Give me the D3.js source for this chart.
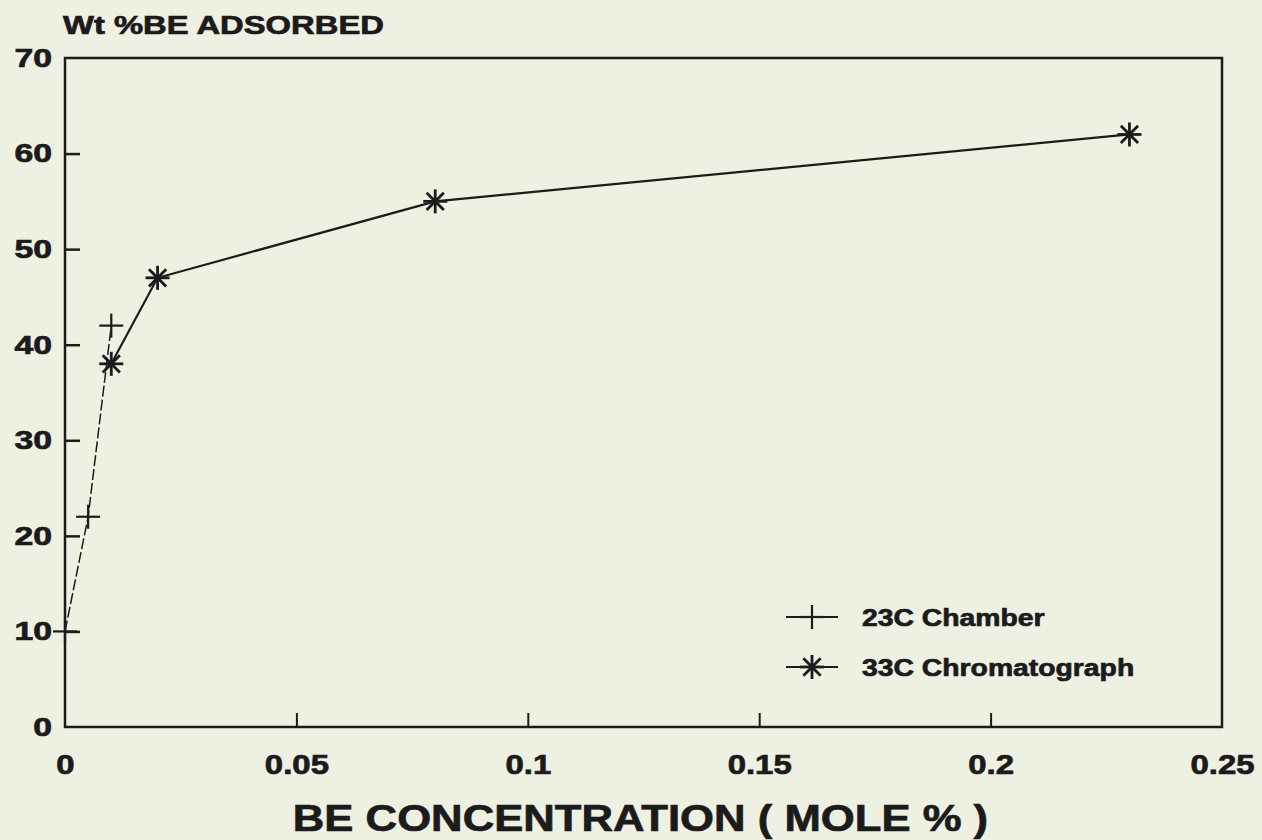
<!DOCTYPE html>
<html>
<head>
<meta charset="utf-8">
<script src="https://cdn.jsdelivr.net/npm/d3@7"></script>
<style>
  body { margin: 0; background: #eef0e2; }
  svg { display: block; }
  text { font-family: "Liberation Sans", Arial, sans-serif; font-weight: bold; fill: #1b1b1b;
         stroke: #1b1b1b; stroke-width: 0.7px; }
</style>
</head>
<body>
<svg id="chart" width="1262" height="840"></svg>
<script>
// values
var chamberX = [0, 0.005, 0.01],
    chamberY = [10, 22, 42],
    chromX = [0.01, 0.02, 0.08, 0.23],
    chromY = [38, 47, 55, 62],
    xTicks = [0, 0.05, 0.1, 0.15, 0.2, 0.25],
    yTicks = [0, 10, 20, 30, 40, 50, 60, 70],
    seriesNames = ["23C Chamber", "33C Chromatograph"];

var svg = d3.select("#chart"),
    MARGINS = { top: 58, right: 40, bottom: 113, left: 65 },
    WIDTH = 1262, HEIGHT = 840,
    ink = "#1b1b1b";

var xScale = d3.scaleLinear().domain([0, 0.25]).range([MARGINS.left, WIDTH - MARGINS.right]),
    yScale = d3.scaleLinear().domain([0, 70]).range([HEIGHT - MARGINS.bottom, MARGINS.top]);

// widen text like the plotter font
function stretch(sel, k) {
  sel.each(function () {
    var len = this.getComputedTextLength();
    d3.select(this).attr("textLength", len * k).attr("lengthAdjust", "spacingAndGlyphs");
  });
}

var xAxis = d3.axisBottom(xScale)
    .tickValues(xTicks)
    .tickSize(-14)
    .tickPadding(28)
    .tickFormat(function (d) { return d === 0 ? "0" : String(d); });

var yAxis = d3.axisLeft(yScale)
    .tickValues(yTicks)
    .tickSize(-15)
    .tickPadding(13)
    .tickFormat(d3.format("d"));

var gx = svg.append("g")
    .attr("transform", "translate(0," + yScale(0) + ")")
    .call(xAxis);
gx.select(".domain").remove();
gx.selectAll("line").attr("stroke", ink).attr("stroke-width", 2)
    .filter(function (d) { return d === 0 || d === 0.25; }).remove();
gx.selectAll("text").style("font-size", "27px").attr("fill", ink).call(stretch, 1.22);

var gy = svg.append("g")
    .attr("transform", "translate(" + xScale(0) + ",0)")
    .call(yAxis);
gy.select(".domain").remove();
gy.selectAll("line").attr("stroke", ink).attr("stroke-width", 2.5)
    .filter(function (d) { return d === 0 || d === 70; }).remove();
gy.selectAll("text").style("font-size", "26px").attr("fill", ink).call(stretch, 1.3);

// frame
svg.append("rect")
    .attr("x", xScale(0))
    .attr("y", yScale(70))
    .attr("width", xScale(0.25) - xScale(0))
    .attr("height", yScale(0) - yScale(70))
    .attr("fill", "none")
    .attr("stroke", ink)
    .attr("stroke-width", 2.5);

// titles
svg.append("text")
    .attr("x", 63)
    .attr("y", 34)
    .style("font-size", "26px")
    .text("Wt %BE ADSORBED")
    .call(stretch, 1.26);

svg.append("text")
    .attr("x", (xScale(0) + xScale(0.25)) / 2 - 3)
    .attr("y", 831)
    .style("text-anchor", "middle")
    .style("font-size", "37px")
    .text("BE CONCENTRATION ( MOLE % )")
    .call(stretch, 1.18);

// series
var chamber = chamberX.map(function (x, i) { return { x: x, y: chamberY[i] }; }),
    chrom = chromX.map(function (x, i) { return { x: x, y: chromY[i] }; });

var line = d3.line()
    .x(function (d) { return xScale(d.x); })
    .y(function (d) { return yScale(d.y); });

svg.append("path")
    .datum(chamber)
    .attr("d", line)
    .attr("fill", "none")
    .attr("stroke", ink)
    .attr("stroke-width", 1.5)
    .attr("stroke-dasharray", "11,3");

svg.append("path")
    .datum(chrom)
    .attr("d", line)
    .attr("fill", "none")
    .attr("stroke", ink)
    .attr("stroke-width", 2.2);

function plusMark(g, r) {
  g.append("line").attr("x1", -r).attr("x2", r).attr("y1", 0).attr("y2", 0);
  g.append("line").attr("x1", 0).attr("x2", 0).attr("y1", -r).attr("y2", r);
}
function starMark(g, r) {
  plusMark(g, r);
  var q = r * 0.72;
  g.append("line").attr("x1", -q).attr("x2", q).attr("y1", -q).attr("y2", q);
  g.append("line").attr("x1", -q).attr("x2", q).attr("y1", q).attr("y2", -q);
}

svg.selectAll(".plus")
    .data(chamber)
  .enter().append("g")
    .attr("class", "plus")
    .attr("transform", function (d) { return "translate(" + xScale(d.x) + "," + yScale(d.y) + ")"; })
    .attr("stroke", ink)
    .attr("stroke-width", 2.2)
    .each(function () { plusMark(d3.select(this), 12); });

svg.selectAll(".star")
    .data(chrom)
  .enter().append("g")
    .attr("class", "star")
    .attr("transform", function (d) { return "translate(" + xScale(d.x) + "," + yScale(d.y) + ")"; })
    .attr("stroke", ink)
    .attr("stroke-width", 2.8)
    .each(function () { starMark(d3.select(this), 12); });

// legend
var legend = svg.append("g");
seriesNames.forEach(function (name, i) {
  var ly = 617 + i * 50,
      row = legend.append("g").attr("transform", "translate(786," + ly + ")");
  row.append("line")
      .attr("x1", 0).attr("x2", 52)
      .attr("stroke", ink).attr("stroke-width", 2.2);
  var m = row.append("g")
      .attr("transform", "translate(26,0)")
      .attr("stroke", ink)
      .attr("stroke-width", i === 0 ? 2.2 : 2.8);
  if (i === 0) plusMark(m, 12); else starMark(m, 12);
  row.append("text")
      .attr("x", 76)
      .attr("dy", "0.36em")
      .style("font-size", "24px")
      .text(name)
      .call(stretch, 1.18);
});
</script>
</body>
</html>
